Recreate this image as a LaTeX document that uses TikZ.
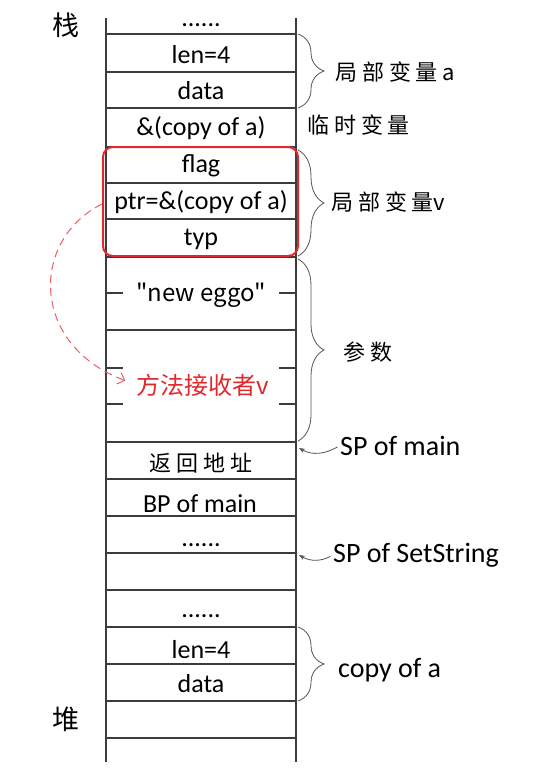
\documentclass[tikz,border=0pt]{standalone}
\usepackage{fontspec}
\setmainfont{Carlito}
\newfontfamily\cjk{Noto Sans CJK SC}
\usetikzlibrary{arrows.meta}
\usetikzlibrary{positioning}
\usetikzlibrary{decorations.pathreplacing}

\definecolor{linegray}{RGB}{60,60,60}
\definecolor{bracegray}{RGB}{85,85,85}
\definecolor{boxred}{RGB}{225,40,45}
\definecolor{dashred}{RGB}{235,95,100}

\tikzset{
  stackline/.style={linegray, line width=1.1pt},
  cell/.style={font=\fontsize{26}{26}\selectfont, inner sep=0pt, anchor=base},
  cjkcell/.style={font=\cjk\fontsize{22}{22}\selectfont, inner sep=0pt, anchor=base},
  side/.style={font=\fontsize{28}{28}\selectfont, inner sep=0pt, anchor=base west},
  cjkside/.style={font=\cjk\fontsize{22}{22}\selectfont, inner sep=0pt, anchor=base west},
  curly/.style={decorate, decoration={brace, amplitude=26pt, aspect=0.5}, bracegray, line width=0.8pt},
  sparrow/.style={-{Stealth[length=6pt]}, bracegray, line width=0.8pt},
}

\begin{document}
\begin{tikzpicture}[x=1pt, y=1pt]
    \useasboundingbox[fill=white] (0,0) rectangle (539,-772);

    % Stack frame
    \draw[stackline] (106,-18) -- (106,-762);
    \draw[stackline] (296,-18) -- (296,-762);
    \foreach \y in {34,72,108,147,183,219,257,330,442,479,516,553,590,627,664,701,738}
        \draw[stackline] (106,-\y) -- (296,-\y);
    \foreach \y in {293,368,404} {
        \draw[stackline] (106,-\y) -- ++(17,0);
        \draw[stackline] (296,-\y) -- ++(-17,0);
    }

    % Cells
    \node[cell] (dotsa) at (201,-26) {......};
    \node[cell] (lena) at (201,-63) {len=4};
    \node[cell] (dataa) at (201,-99) {data};
    \node[cell] (refa) at (201,-135) {\&(copy of a)};
    \node[cell] (flag) at (201,-172) {flag};
    \node[cell] (ptr) at (201,-209) {ptr=\&(copy of a)};
    \node[cell] (typ) at (201,-245) {typ};
    \node[cjkcell, font=\cjk\fontsize{24}{24}\selectfont] (eggo) at (201,-301) {"new eggo"};
    \node[cjkcell, font=\cjk\fontsize{24}{24}\selectfont, text=boxred] (recv) at (203,-394) {方法接收者v};
    \node[cjkcell] (ret) at (201,-471) {返 回 地 址};
    \node[cell] (bpmain) at (200,-512) {BP of main};
    \node[cell] (dotsb) at (201,-546) {......};
    \node[cell] (dotsc) at (201,-617) {......};
    \node[cell] (lenb) at (201,-658) {len=4};
    \node[cell] (datab) at (201,-692) {data};

    % Stack and heap
    \node[cjkcell, font=\cjk\fontsize{27}{27}\selectfont] (stk) at (66,-35) {栈};
    \node[cjkcell, font=\cjk\fontsize{27}{27}\selectfont] (heap) at (66,-729) {堆};

    % Local v
    \draw[boxred, line width=2pt, rounded corners=10pt] (103,-147) rectangle (298,-256);
    \coordinate (ptrleft) at (102,-204);
    \draw[dashred, dash pattern=on 8pt off 5pt, line width=1pt, -{Straight Barb[length=6pt]}, shorten >=12pt]
        (ptrleft) .. controls (30,-240) and (30,-345) .. (recv.west);

    % Braces
    \coordinate (bra) at (298,-34);   \coordinate (brb) at (298,-108);
    \coordinate (brc) at (298,-150);  \coordinate (brd) at (298,-256);
    \coordinate (bre) at (298,-259);  \coordinate (brf) at (298,-441);
    \coordinate (brg) at (298,-627);  \coordinate (brh) at (298,-701);
    \draw[curly] (bra) -- (brb);
    \draw[curly] (brc) -- (brd);
    \draw[curly] (bre) -- (brf);
    \draw[curly] (brg) -- (brh);

    \node[cjkside] (loca) at (335,-80) {局 部 变 量 a};
    \node[cjkside] (tmp) at (307,-133) {临 时 变 量};
    \node[cjkside] (locv) at (331,-210) {局 部 变 量v};
    \node[cjkside] (args) at (343,-360) {参 数};
    \node[side] (copya) at (338,-677) {copy of a};

    % Stack pointers
    \node[side] (spmain) at (340,-455) {SP of main};
    \node[side] (spset) at (333,-562) {SP of SetString};
    \coordinate (spa) at (299,-448);
    \coordinate (spb) at (299,-555);
    \draw[sparrow, shorten <=3pt] (spmain.west) to[out=210, in=-30] (spa);
    \draw[sparrow, shorten <=3pt] (spset.west) to[out=210, in=-30] (spb);
\end{tikzpicture}
\end{document}
